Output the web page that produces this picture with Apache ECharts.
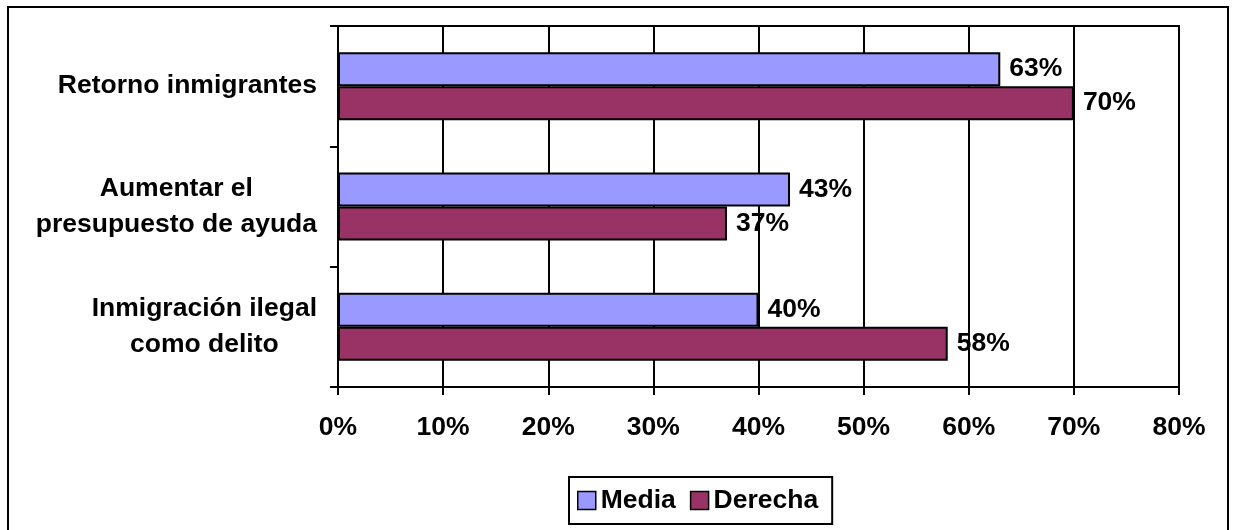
<!DOCTYPE html>
<html>
<head>
<meta charset="utf-8">
<script src="https://cdn.jsdelivr.net/npm/echarts@6/dist/echarts.min.js"></script>
<style>
html,body{margin:0;padding:0;background:#fff;}
#c{width:1233px;height:530px;}
</style>
</head>
<body>
<div id="c"></div>
<script>
const categories = ['Inmigración ilegal\ncomo delito', 'Aumentar el\npresupuesto de ayuda', 'Retorno inmigrantes'];
const media = [40, 43, 63];
const derecha = [58, 37, 70];
const xTicks = [0, 10, 20, 30, 40, 50, 60, 70, 80];

const font = 'Liberation Sans, Arial, sans-serif';
const FS = 26.5;
const chart = echarts.init(document.getElementById('c'));
const labelStyle = {
  show: true, position: 'right', distance: 9,
  formatter: '{c}%', color: '#000', fontFamily: font, fontWeight: 'bold', fontSize: FS
};
chart.setOption({
  animation: false,
  backgroundColor: '#fff',
  graphic: [{
    type: 'rect', z: -1,
    shape: { x: 8, y: 7, width: 1220, height: 540 },
    style: { fill: 'none', stroke: '#000', lineWidth: 2 }
  }],
  grid: {
    left: 338, right: 54, top: 26, bottom: 143,
    show: true, borderColor: '#000', borderWidth: 2, backgroundColor: '#fff'
  },
  legend: {
    data: ['Media', 'Derecha'],
    left: 569, top: 477,
    padding: [10, 14, 10, 8],
    itemGap: 14, itemWidth: 18, itemHeight: 18,
    icon: 'rect',
    borderColor: '#000', borderWidth: 2,
    textStyle: { fontFamily: font, fontWeight: 'bold', fontSize: FS, color: '#000' },
    itemStyle: { borderColor: '#000', borderWidth: 1.5 }
  },
  xAxis: {
    type: 'value', min: xTicks[0], max: xTicks[xTicks.length - 1], interval: 10,
    axisLine: { show: true, lineStyle: { color: '#000', width: 2 } },
    axisTick: { show: true, length: 8, lineStyle: { color: '#000', width: 2 } },
    splitLine: { show: true, lineStyle: { color: '#000', width: 2 } },
    axisLabel: {
      formatter: '{value}%', margin: 27, color: '#000',
      fontFamily: font, fontWeight: 'bold', fontSize: FS
    }
  },
  yAxis: {
    type: 'category', data: categories,
    axisLine: { show: true, lineStyle: { color: '#000', width: 2 } },
    axisTick: { show: true, length: 8, lineStyle: { color: '#000', width: 2 } },
    axisLabel: {
      margin: 21, color: '#000', align: 'right',
      fontFamily: font, fontWeight: 'bold', fontSize: FS,
      formatter: function (v) {
        return v.split('\n').map(function (l) { return '{c|' + l + '}'; }).join('\n');
      },
      rich: {
        c: { align: 'center', fontFamily: font, fontWeight: 'bold', fontSize: FS, lineHeight: 36, color: '#000' }
      }
    }
  },
  series: [
    {
      name: 'Media', type: 'bar', data: media, barWidth: 34, barGap: '0%',
      itemStyle: { color: '#9999FF', borderColor: '#000', borderWidth: 2 },
      label: labelStyle
    },
    {
      name: 'Derecha', type: 'bar', data: derecha, barWidth: 34, barGap: '0%',
      itemStyle: { color: '#993366', borderColor: '#000', borderWidth: 2 },
      label: labelStyle
    }
  ]
});
</script>
</body>
</html>
